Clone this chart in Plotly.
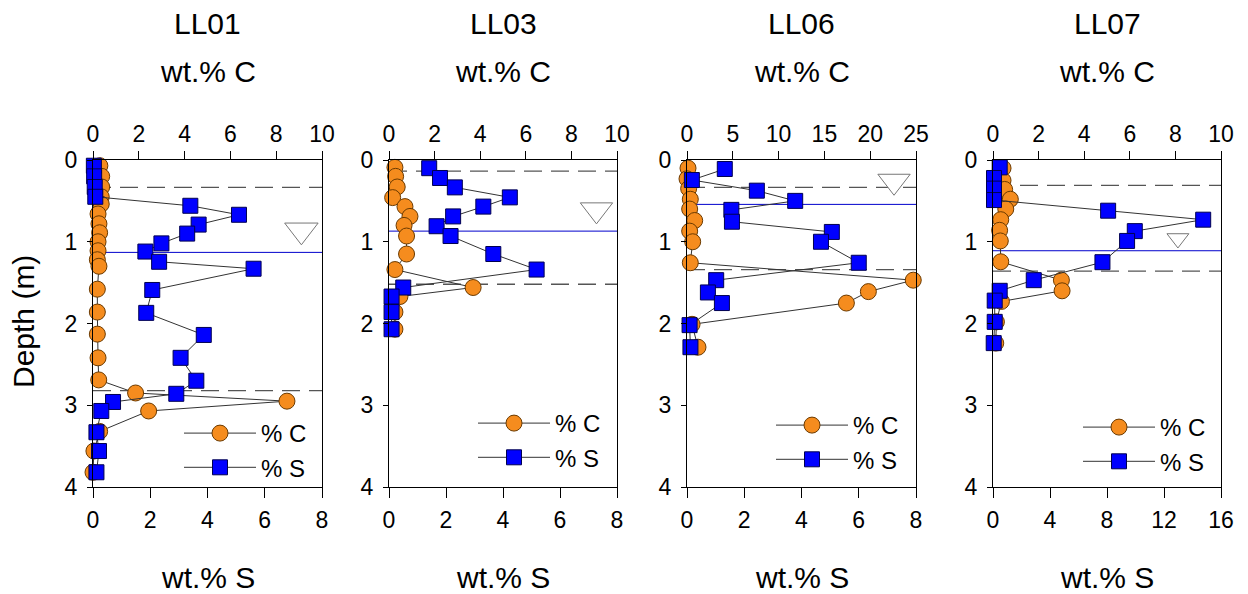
import plotly.graph_objects as go

# The page body has an 8px default margin, so the figure is 8px smaller than
# the window and every reference-pixel position is shifted by OFF.
OFF = 8
W, H = 1248 - OFF, 594 - OFF

# ---------------- data ----------------
stations = ["LL01", "LL03", "LL06", "LL07"]

# LL01
d_C1 = [0.07, 0.20, 0.33, 0.45, 0.54, 0.66, 0.78, 0.89, 1.00, 1.11, 1.22, 1.30, 1.58, 1.86, 2.13, 2.42, 2.69, 2.85, 2.95, 3.07, 3.32, 3.56, 3.82]
C1 = [0.30, 0.38, 0.38, 0.36, 0.36, 0.22, 0.26, 0.29, 0.22, 0.22, 0.19, 0.26, 0.19, 0.19, 0.19, 0.22, 0.25, 1.86, 8.47, 2.43, 0.29, 0.04, 0.0]
d_S1 = [0.07, 0.20, 0.33, 0.45, 0.56, 0.67, 0.79, 0.90, 1.02, 1.12, 1.245, 1.33, 1.59, 1.87, 2.14, 2.42, 2.70, 2.86, 2.96, 3.07, 3.33, 3.56, 3.82]
S1 = [0.03, 0.04, 0.06, 0.08, 3.40, 5.10, 3.69, 3.29, 2.39, 1.83, 2.31, 5.61, 2.07, 1.86, 3.87, 3.06, 3.61, 2.91, 0.70, 0.29, 0.12, 0.21, 0.12]

# LL03
d_C2 = [0.09, 0.20, 0.33, 0.46, 0.57, 0.69, 0.80, 0.93, 1.15, 1.34, 1.56, 1.67, 1.86, 2.07]
C2 = [0.26, 0.29, 0.36, 0.16, 0.70, 0.92, 0.66, 0.77, 0.77, 0.26, 3.69, 0.48, 0.26, 0.26]
d_S2 = [0.10, 0.22, 0.335, 0.457, 0.57, 0.69, 0.81, 0.93, 1.15, 1.34, 1.56, 1.67, 1.86, 2.07]
S2 = [1.41, 1.79, 2.31, 4.24, 3.31, 2.25, 1.67, 2.16, 3.66, 5.18, 0.50, 0.09, 0.09, 0.09]

# LL06
d_C3 = [0.10, 0.23, 0.35, 0.48, 0.60, 0.74, 0.87, 1.00, 1.257, 1.47, 1.61, 1.75, 2.01, 2.29]
C3 = [0.11, 0.0, 0.18, 0.36, 0.29, 0.84, 0.29, 0.62, 0.36, 24.7, 19.8, 17.4, 0.55, 1.2]
d_S3 = [0.11, 0.245, 0.375, 0.50, 0.61, 0.755, 0.88, 1.00, 1.257, 1.47, 1.62, 1.75, 2.02, 2.29]
S3 = [1.32, 0.17, 2.44, 3.78, 1.55, 1.57, 5.06, 4.68, 6.00, 1.02, 0.73, 1.22, 0.09, 0.12]

# LL07
d_C4 = [0.10, 0.25, 0.36, 0.48, 0.60, 0.73, 0.86, 0.99, 1.245, 1.47, 1.60, 1.73, 1.98, 2.24]
C4 = [0.44, 0.44, 0.51, 0.76, 0.56, 0.34, 0.29, 0.32, 0.34, 3.00, 3.03, 0.37, 0.15, 0.12]
d_S4 = [0.09, 0.22, 0.35, 0.49, 0.62, 0.73, 0.87, 0.99, 1.25, 1.47, 1.60, 1.72, 1.98, 2.24]
S4 = [0.47, 0.07, 0.07, 0.07, 8.08, 14.75, 9.95, 9.41, 7.68, 2.86, 0.47, 0.12, 0.12, 0.05]

C_data = [(d_C1, C1), (d_C2, C2), (d_C3, C3), (d_C4, C4)]
S_data = [(d_S1, S1), (d_S2, S2), (d_S3, S3), (d_S4, S4)]

# horizontal reference depths (m)
dashed_depths = [[0.335, 2.82], [0.135, 1.52], [0.335, 1.34], [0.31, 1.36]]
blue_depths = [1.13, 0.87, 0.543, 1.11]

# water-table triangle (wt.% C axis value, depth)
tri_C = [9.1, 9.1, 22.6, 8.11]
tri_d = [0.86, 0.61, 0.26, 0.96]
tri_size = [29, 28, 28, 19]

# axis ranges / ticks
C_range = [10, 10, 25, 10]
C_dtick = [2, 2, 5, 2]
S_range = [8, 8, 8, 16]
S_dtick = [2, 2, 2, 4]

# ---------------- layout geometry (reference-window pixels) ----------------
px_left = [93, 389, 687, 993]
px_right = [322, 617, 916, 1221]
py_top, py_bot = 160, 487
legend_px = [(179, 411), (473, 401), (771, 403), (1078, 405)]

FONT = "Arial, Liberation Sans, sans-serif"
ORANGE = "#F58C1E"
ORANGE_EDGE = "#6B3A00"
BLUE = "#0000FF"
BLUE_EDGE = "#000050"
TICK_FS = 23
TITLE_FS = 30
LEGEND_FS = 24


def fx(px):
    return (px - OFF) / W


def fy(py):
    return 1 - (py - OFF) / H


def ax(prefix, n):
    return prefix if n == 1 else f"{prefix}{n}"


fig = go.Figure()
layout = dict(
    width=W, height=H,
    margin=dict(l=0, r=0, t=0, b=0, pad=0, autoexpand=False),
    paper_bgcolor="white", plot_bgcolor="white",
    font=dict(family=FONT, size=TICK_FS, color="black"),
    shapes=[], annotations=[],
)

ydom = [fy(py_bot), fy(py_top)]

for i in range(4):
    n = i + 1
    xc = ax("x", n)          # top axis (C)
    xs = ax("x", n + 4)      # bottom axis (S), overlaying
    ya = ax("y", n)
    dom = [fx(px_left[i]), fx(px_right[i])]
    leg = ax("legend", n)

    layout[ax("xaxis", n)] = dict(
        domain=dom, range=[0, C_range[i]], dtick=C_dtick[i], side="top",
        anchor=ya, showline=True, linecolor="black", linewidth=1,
        ticks="outside", ticklen=8, tickcolor="black", showgrid=False,
        zeroline=False, tickfont=dict(size=TICK_FS), ticklabelstandoff=0,
        automargin=False,
    )
    layout[ax("xaxis", n + 4)] = dict(
        range=[0, S_range[i]], dtick=S_dtick[i], side="bottom",
        overlaying=xc, anchor=ya, showline=True, linecolor="black",
        linewidth=1, ticks="outside", ticklen=10, tickcolor="black",
        showgrid=False, zeroline=False, tickfont=dict(size=TICK_FS),
        ticklabelstandoff=2, automargin=False,
    )
    layout[ax("yaxis", n)] = dict(
        domain=ydom, range=[4, 0], dtick=1, anchor=xc, showline=True,
        linecolor="black", linewidth=1, mirror=True, ticks="outside",
        ticklen=5, tickcolor="black", showgrid=False, zeroline=False,
        tickfont=dict(size=TICK_FS), ticklabelstandoff=5, automargin=False,
    )

    # reference lines
    for dd in dashed_depths[i]:
        layout["shapes"].append(dict(
            type="line", xref=f"{xc} domain", yref=ya, x0=0, x1=1, y0=dd, y1=dd,
            line=dict(color="#555555", width=1.3, dash="18px,9px"), layer="below",
        ))
    layout["shapes"].append(dict(
        type="line", xref=f"{xc} domain", yref=ya, x0=0, x1=1,
        y0=blue_depths[i], y1=blue_depths[i],
        line=dict(color="#0000CC", width=1), layer="below",
    ))

    dC, vC = C_data[i]
    dS, vS = S_data[i]
    fig.add_trace(go.Scatter(
        x=vC, y=dC, xaxis=xc, yaxis=ya, mode="lines+markers", name="% C",
        legend=leg, cliponaxis=False,
        line=dict(color="#333333", width=1),
        marker=dict(symbol="circle", size=16, color=ORANGE,
                    line=dict(color=ORANGE_EDGE, width=1)),
    ))
    fig.add_trace(go.Scatter(
        x=[tri_C[i]], y=[tri_d[i]], xaxis=xc, yaxis=ya, mode="markers",
        showlegend=False, cliponaxis=False, hoverinfo="skip",
        marker=dict(symbol="triangle-down", size=tri_size[i], color="white",
                    line=dict(color="#777777", width=1)),
    ))
    fig.add_trace(go.Scatter(
        x=vS, y=dS, xaxis=xs, yaxis=ya, mode="lines+markers", name="% S",
        legend=leg, cliponaxis=False,
        line=dict(color="#333333", width=1),
        marker=dict(symbol="square", size=15, color=BLUE,
                    line=dict(color=BLUE_EDGE, width=1)),
    ))

    lx, ly = legend_px[i]
    layout[leg] = dict(
        x=fx(lx), y=fy(ly), xanchor="left", yanchor="top",
        bgcolor="rgba(0,0,0,0)", font=dict(size=LEGEND_FS, family=FONT),
        itemwidth=72, tracegroupgap=0, traceorder="normal",
    )

    cx = fx((px_left[i] + px_right[i]) / 2)
    layout["annotations"] += [
        dict(text=stations[i], x=cx, y=fy(23), xref="paper", yref="paper",
             showarrow=False, font=dict(size=TITLE_FS), xanchor="center", yanchor="middle"),
        dict(text="wt.% C", x=cx, y=fy(72), xref="paper", yref="paper",
             showarrow=False, font=dict(size=TITLE_FS), xanchor="center", yanchor="middle"),
        dict(text="wt.% S", x=cx, y=fy(577), xref="paper", yref="paper",
             showarrow=False, font=dict(size=TITLE_FS), xanchor="center", yanchor="middle"),
    ]

layout["annotations"].append(dict(
    text="Depth (m)", x=fx(23), y=fy(322), xref="paper", yref="paper",
    showarrow=False, textangle=-90, font=dict(size=TITLE_FS),
    xanchor="center", yanchor="middle",
))
layout["showlegend"] = True

fig.update_layout(**layout)
fig.write_html("out.html")
